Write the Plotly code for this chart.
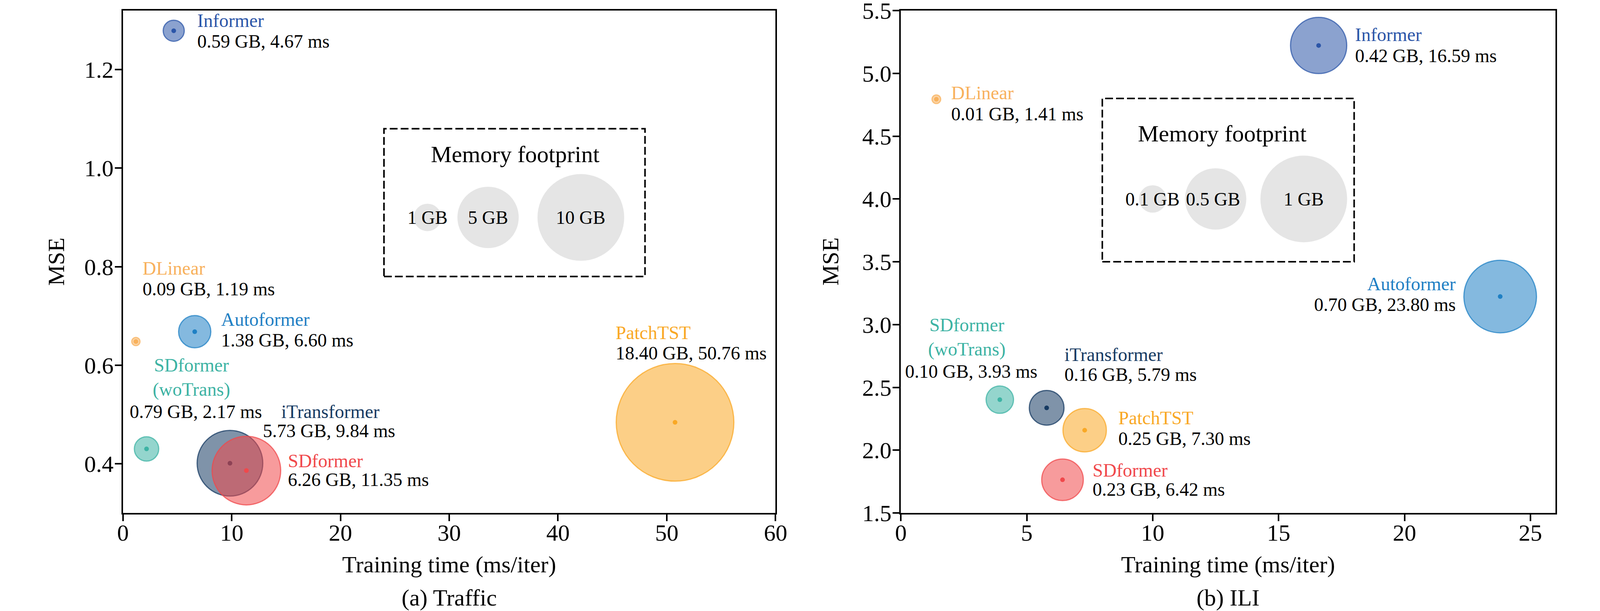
import numpy as np
import plotly.graph_objects as go
from plotly.subplots import make_subplots

# models, in drawing order (later ones are painted on top)
models = ["Informer", "DLinear", "Autoformer", "SDformer<br>(woTrans)",
          "iTransformer", "SDformer", "PatchTST"]
colors = ["#2b55a8", "#f8b15c", "#1f80c4", "#3db3a4",
          "#163a62", "#f0484b", "#f9a825"]

# (a) Traffic
traffic_time = [4.67, 1.19, 6.60, 2.17, 9.84, 11.35, 50.76]
traffic_mem = [0.59, 0.09, 1.38, 0.79, 5.73, 6.26, 18.40]
traffic_mse = [1.279, 0.648, 0.668, 0.430, 0.401, 0.386, 0.484]

# (b) ILI
ili_time = [16.59, 1.41, 23.80, 3.93, 5.79, 6.42, 7.30]
ili_mem = [0.42, 0.01, 0.70, 0.10, 0.16, 0.23, 0.25]
ili_mse = [5.222, 4.794, 3.223, 2.402, 2.337, 1.764, 2.159]

# memory footprint reference bubbles
traffic_ref_gb = [1, 5, 10]
traffic_ref_text = ["1 GB", "5 GB", "10 GB"]
ili_ref_gb = [0.1, 0.5, 1]
ili_ref_text = ["0.1 GB", "0.5 GB", "1 GB"]

FONT = "Liberation Serif"
REF_W, H = 4252, 1564   # layout measured on the reference
W = 4096                # the browser viewport is only this wide

# label placement: name x, name y, stats x, stats y, anchor
traffic_labels = [
    (6.75, 1.300, 6.75, 1.258, "left"),
    (1.74, 0.797, 1.74, 0.755, "left"),
    (8.94, 0.693, 8.94, 0.651, "left"),
    (6.29, 0.575, 6.71, 0.506, "center"),
    (14.47, 0.506, 12.80, 0.467, "left"),
    (15.08, 0.406, 15.08, 0.368, "left"),
    (45.22, 0.666, 45.22, 0.625, "left"),
]
ili_labels = [
    (18.01, 5.310, 18.01, 5.142, "left"),
    (1.97, 4.844, 1.97, 4.676, "left"),
    (22.07, 3.323, 22.07, 3.158, "right"),
    (2.62, 2.900, 2.80, 2.629, "center"),
    (6.47, 2.760, 6.47, 2.604, "left"),
    (7.58, 1.842, 7.58, 1.687, "left"),
    (8.60, 2.256, 8.60, 2.094, "left"),
]


def rgba(hex_color, a):
    h = hex_color.lstrip("#")
    r, g, b = int(h[0:2], 16), int(h[2:4], 16), int(h[4:6], 16)
    return f"rgba({r},{g},{b},{a})"


fig = make_subplots(rows=1, cols=2)

panels = [
    (1, traffic_time, traffic_mse, traffic_mem, 10.0, traffic_labels, "x", "y"),
    (2, ili_time, ili_mse, ili_mem, 1.0, ili_labels, "x2", "y2"),
]

annotations = []
for col, times, mses, mems, ref, labels, xr, yr in panels:
    sizes = 222 * np.sqrt(np.array(mems) / ref)
    for i, name in enumerate(models):
        fig.add_trace(go.Scatter(
            x=[times[i]], y=[mses[i]], mode="markers",
            marker=dict(size=sizes[i], color=rgba(colors[i], 0.55),
                        line=dict(color=rgba(colors[i], 0.75), width=3)),
            showlegend=False, hoverinfo="skip", cliponaxis=False),
            row=1, col=col)
        fig.add_trace(go.Scatter(
            x=[times[i]], y=[mses[i]], mode="markers",
            marker=dict(size=12, color=colors[i]),
            showlegend=False, hoverinfo="skip", cliponaxis=False),
            row=1, col=col)
        nx, ny, sx, sy, anchor = labels[i]
        annotations.append(dict(
            x=nx, y=ny, xref=xr, yref=yr, text=name, showarrow=False,
            xanchor=anchor, yanchor="middle",
            font=dict(family=FONT, size=48, color=colors[i])))
        annotations.append(dict(
            x=sx, y=sy, xref=xr, yref=yr,
            text=f"{mems[i]:.2f} GB, {times[i]:.2f} ms", showarrow=False,
            xanchor=anchor, yanchor="middle",
            font=dict(family=FONT, size=48, color="black")))

# memory footprint boxes
legend_cfg = [
    (1, traffic_ref_gb, traffic_ref_text, 10.0, [28.0, 33.57, 42.1], 0.90,
     [28.0, 33.57, 42.1], (24, 48, 0.78, 1.08), (36.07, 1.0285), "x", "y"),
    (2, ili_ref_gb, ili_ref_text, 1.0, [10.0, 12.5, 16.0], 4.0,
     [10.0, 12.4, 16.0], (8, 18, 3.5, 4.8), (12.77, 4.52), "x2", "y2"),
]
for col, gbs, texts, ref, xs, yc, tx, box, title_pos, xr, yr in legend_cfg:
    fig.add_trace(go.Scatter(
        x=xs, y=[yc] * len(xs), mode="markers",
        marker=dict(size=222 * np.sqrt(np.array(gbs) / ref), color="#dadada",
                    line=dict(width=0)),
        showlegend=False, hoverinfo="skip"), row=1, col=col)
    for x, t in zip(tx, texts):
        annotations.append(dict(
            x=x, y=yc, xref=xr, yref=yr, text=t, showarrow=False,
            xanchor="center", yanchor="middle",
            font=dict(family=FONT, size=48, color="black")))
    annotations.append(dict(
        x=title_pos[0], y=title_pos[1], xref=xr, yref=yr,
        text="Memory footprint", showarrow=False,
        xanchor="center", yanchor="middle",
        font=dict(family=FONT, size=60, color="black")))
    fig.add_shape(type="rect", x0=box[0], x1=box[1], y0=box[2], y1=box[3],
                  xref=xr, yref=yr,
                  line=dict(color="black", width=4, dash="20px,8px"))

# domains in paper fractions
xdom1 = [326.7 / REF_W, 2061 / REF_W]
xdom2 = [2394 / REF_W, 4134 / REF_W]
ydom = [1 - 1313 / H, 1 - 27 / H]

axis_common = dict(showgrid=False, zeroline=False, showline=True,
                   linecolor="black", linewidth=4, mirror=True,
                   ticks="outside", ticklen=17, tickwidth=4,
                   tickcolor="black", automargin=False,
                   ticklabeloverflow="allow",
                   tickfont=dict(family=FONT, size=60, color="black"))

fig.update_xaxes(axis_common, ticklabelstandoff=-22)
fig.update_yaxes(axis_common, ticklabelstandoff=-9)
fig.update_xaxes(domain=xdom1, range=[0, 60], tickvals=[0, 10, 20, 30, 40, 50, 60],
                 row=1, col=1)
fig.update_xaxes(domain=xdom2, range=[0, 26], tickvals=[0, 5, 10, 15, 20, 25],
                 row=1, col=2)
fig.update_yaxes(domain=ydom, range=[0.30, 1.32], tickvals=[0.4, 0.6, 0.8, 1.0, 1.2],
                 tickformat=".1f", row=1, col=1)
fig.update_yaxes(domain=ydom, range=[1.5, 5.5],
                 tickvals=[1.5, 2.0, 2.5, 3.0, 3.5, 4.0, 4.5, 5.0, 5.5],
                 tickformat=".1f", row=1, col=2)

# axis titles and panel captions
for dom, cap, mse_x in [(xdom1, "(a) Traffic", 149 / REF_W),
                        (xdom2, "(b) ILI", 2207 / REF_W)]:
    cx = (dom[0] + dom[1]) / 2
    annotations.append(dict(x=cx, y=1 - 1445 / H, xref="paper", yref="paper",
                            text="Training time (ms/iter)", showarrow=False,
                            xanchor="center", yanchor="middle",
                            font=dict(family=FONT, size=60, color="black")))
    annotations.append(dict(x=cx, y=1 - 1530 / H, xref="paper", yref="paper",
                            text=cap, showarrow=False,
                            xanchor="center", yanchor="middle",
                            font=dict(family=FONT, size=60, color="black")))
    annotations.append(dict(x=mse_x, y=(ydom[0] + ydom[1]) / 2,
                            xref="paper", yref="paper", text="MSE",
                            showarrow=False, textangle=-90,
                            xanchor="center", yanchor="middle",
                            font=dict(family=FONT, size=60, color="black")))

fig.update_layout(width=W, height=H, margin=dict(l=0, r=0, t=0, b=0),
                  plot_bgcolor="white", paper_bgcolor="white",
                  annotations=annotations, showlegend=False)

# drop the default page margin so the figure fills the viewport exactly
page_js = ("document.body.style.margin='0';"
           "document.documentElement.style.overflow='hidden';")
fig.write_html("out.html", post_script=page_js,
               config={"displayModeBar": False})
